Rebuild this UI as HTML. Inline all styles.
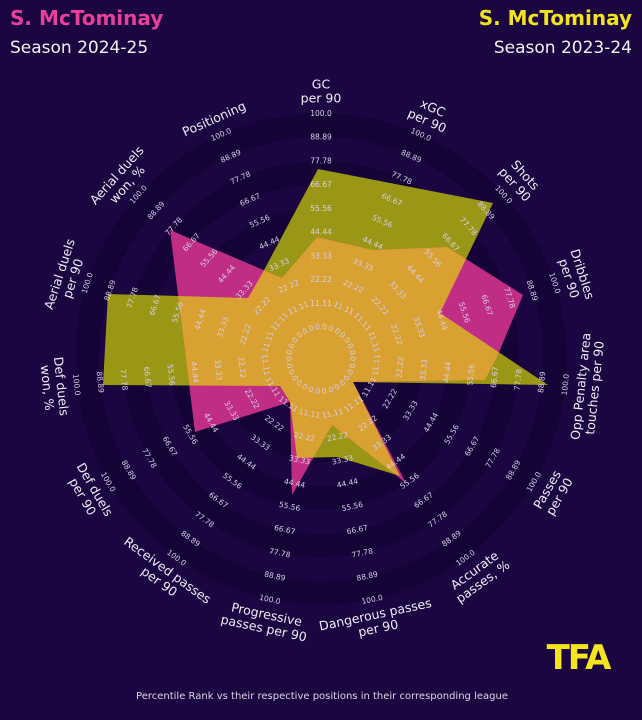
<!DOCTYPE html>
<html><head><meta charset="utf-8"><style>
html,body{margin:0;padding:0;background:#1b0642;}
svg{display:block;font-family:"DejaVu Sans","Liberation Sans",sans-serif;}
.t text{font-size:7.5px;fill:#d8cfe6;text-anchor:middle;dominant-baseline:central;}
.l text{font-size:12.5px;fill:#f0ecf6;text-anchor:middle;dominant-baseline:central;}
</style></head><body>
<svg width="642" height="720" viewBox="0 0 642 720" xmlns="http://www.w3.org/2000/svg">
<rect width="642" height="720" fill="#1b0642"/>
<text x="10" y="25" font-size="20" font-weight="bold" fill="#e8409a">S. McTominay</text>
<text x="10" y="53" font-size="17" fill="#f2f2f2">Season 2024-25</text>
<text x="632" y="25" font-size="20" font-weight="bold" fill="#f2e41c" text-anchor="end">S. McTominay</text>
<text x="632" y="53" font-size="17" fill="#f2f2f2" text-anchor="end">Season 2023-24</text>
<g transform="translate(321,359)">
<g fill="none" stroke="#150338" stroke-width="23.75">
<circle r="233.9"/><circle r="186.4"/><circle r="138.9"/><circle r="91.4"/><circle r="43.9"/>
</g>
<circle r="32" fill="#150338"/>
</g>
<defs><clipPath id="pk"><polygon points="317,237 373,250 447,247 523,295 497,357 485,380 353,382 406,483 332,425 292,495 290,402 195,432 170,230 282,278"/></clipPath></defs>
<polygon fill="#9b9716" points="297,458 338,457 400,476 353,382 548,385 440,313 493,203 318,169 263,272 248,298 108,294 103,385 280,386 290,402"/>
<polygon fill="#bf2d84" points="317,237 373,250 447,247 523,295 497,357 485,380 353,382 406,483 332,425 292,495 290,402 195,432 170,230 282,278"/>
<polygon fill="#d9a032" clip-path="url(#pk)" points="297,458 338,457 400,476 353,382 548,385 440,313 493,203 318,169 263,272 248,298 108,294 103,385 280,386 290,402"/>
<g class="t" transform="translate(321,359)">
<g transform="rotate(0)"><text y="-32">0.0</text><text y="-55.75">11.11</text><text y="-79.5">22.22</text><text y="-103.25">33.33</text><text y="-127">44.44</text><text y="-150.75">55.56</text><text y="-174.5">66.67</text><text y="-198.25">77.78</text><text y="-222">88.89</text><text y="-245.75">100.0</text></g>
<g transform="rotate(24)"><text y="-32">0.0</text><text y="-55.75">11.11</text><text y="-79.5">22.22</text><text y="-103.25">33.33</text><text y="-127">44.44</text><text y="-150.75">55.56</text><text y="-174.5">66.67</text><text y="-198.25">77.78</text><text y="-222">88.89</text><text y="-245.75">100.0</text></g>
<g transform="rotate(48)"><text y="-32">0.0</text><text y="-55.75">11.11</text><text y="-79.5">22.22</text><text y="-103.25">33.33</text><text y="-127">44.44</text><text y="-150.75">55.56</text><text y="-174.5">66.67</text><text y="-198.25">77.78</text><text y="-222">88.89</text><text y="-245.75">100.0</text></g>
<g transform="rotate(72)"><text y="-32">0.0</text><text y="-55.75">11.11</text><text y="-79.5">22.22</text><text y="-103.25">33.33</text><text y="-127">44.44</text><text y="-150.75">55.56</text><text y="-174.5">66.67</text><text y="-198.25">77.78</text><text y="-222">88.89</text><text y="-245.75">100.0</text></g>
<g transform="rotate(-72)"><text y="-32">0.0</text><text y="-55.75">11.11</text><text y="-79.5">22.22</text><text y="-103.25">33.33</text><text y="-127">44.44</text><text y="-150.75">55.56</text><text y="-174.5">66.67</text><text y="-198.25">77.78</text><text y="-222">88.89</text><text y="-245.75">100.0</text></g>
<g transform="rotate(-48)"><text y="-32">0.0</text><text y="-55.75">11.11</text><text y="-79.5">22.22</text><text y="-103.25">33.33</text><text y="-127">44.44</text><text y="-150.75">55.56</text><text y="-174.5">66.67</text><text y="-198.25">77.78</text><text y="-222">88.89</text><text y="-245.75">100.0</text></g>
<g transform="rotate(-24)"><text y="-32">0.0</text><text y="-55.75">11.11</text><text y="-79.5">22.22</text><text y="-103.25">33.33</text><text y="-127">44.44</text><text y="-150.75">55.56</text><text y="-174.5">66.67</text><text y="-198.25">77.78</text><text y="-222">88.89</text><text y="-245.75">100.0</text></g>
<g transform="rotate(-84)"><text y="32">0.0</text><text y="55.75">11.11</text><text y="79.5">22.22</text><text y="103.25">33.33</text><text y="127">44.44</text><text y="150.75">55.56</text><text y="174.5">66.67</text><text y="198.25">77.78</text><text y="222">88.89</text><text y="245.75">100.0</text></g>
<g transform="rotate(-60)"><text y="32">0.0</text><text y="55.75">11.11</text><text y="79.5">22.22</text><text y="103.25">33.33</text><text y="127">44.44</text><text y="150.75">55.56</text><text y="174.5">66.67</text><text y="198.25">77.78</text><text y="222">88.89</text><text y="245.75">100.0</text></g>
<g transform="rotate(-36)"><text y="32">0.0</text><text y="55.75">11.11</text><text y="79.5">22.22</text><text y="103.25">33.33</text><text y="127">44.44</text><text y="150.75">55.56</text><text y="174.5">66.67</text><text y="198.25">77.78</text><text y="222">88.89</text><text y="245.75">100.0</text></g>
<g transform="rotate(-12)"><text y="32">0.0</text><text y="55.75">11.11</text><text y="79.5">22.22</text><text y="103.25">33.33</text><text y="127">44.44</text><text y="150.75">55.56</text><text y="174.5">66.67</text><text y="198.25">77.78</text><text y="222">88.89</text><text y="245.75">100.0</text></g>
<g transform="rotate(12)"><text y="32">0.0</text><text y="55.75">11.11</text><text y="79.5">22.22</text><text y="103.25">33.33</text><text y="127">44.44</text><text y="150.75">55.56</text><text y="174.5">66.67</text><text y="198.25">77.78</text><text y="222">88.89</text><text y="245.75">100.0</text></g>
<g transform="rotate(36)"><text y="32">0.0</text><text y="55.75">11.11</text><text y="79.5">22.22</text><text y="103.25">33.33</text><text y="127">44.44</text><text y="150.75">55.56</text><text y="174.5">66.67</text><text y="198.25">77.78</text><text y="222">88.89</text><text y="245.75">100.0</text></g>
<g transform="rotate(60)"><text y="32">0.0</text><text y="55.75">11.11</text><text y="79.5">22.22</text><text y="103.25">33.33</text><text y="127">44.44</text><text y="150.75">55.56</text><text y="174.5">66.67</text><text y="198.25">77.78</text><text y="222">88.89</text><text y="245.75">100.0</text></g>
<g transform="rotate(84)"><text y="32">0.0</text><text y="55.75">11.11</text><text y="79.5">22.22</text><text y="103.25">33.33</text><text y="127">44.44</text><text y="150.75">55.56</text><text y="174.5">66.67</text><text y="198.25">77.78</text><text y="222">88.89</text><text y="245.75">100.0</text></g>
</g>
<g class="l" transform="translate(321,359)">
<g transform="rotate(0)"><text y="-275">GC</text><text y="-261">per 90</text></g>
<g transform="rotate(24)"><text y="-275">xGC</text><text y="-261">per 90</text></g>
<g transform="rotate(48)"><text y="-275">Shots</text><text y="-261">per 90</text></g>
<g transform="rotate(72)"><text y="-275">Dribbles</text><text y="-261">per 90</text></g>
<g transform="rotate(-72)"><text y="-275">Aerial duels</text><text y="-261">per 90</text></g>
<g transform="rotate(-48)"><text y="-275">Aerial duels</text><text y="-261">won, %</text></g>
<g transform="rotate(-24)"><text y="-263">Positioning</text></g>
<g transform="rotate(-84)"><text y="261">Opp Penalty area</text><text y="275">touches per 90</text></g>
<g transform="rotate(-60)"><text y="261">Passes</text><text y="275">per 90</text></g>
<g transform="rotate(-36)"><text y="261">Accurate</text><text y="275">passes, %</text></g>
<g transform="rotate(-12)"><text y="261">Dangerous passes</text><text y="275">per 90</text></g>
<g transform="rotate(12)"><text y="261">Progressive</text><text y="275">passes per 90</text></g>
<g transform="rotate(36)"><text y="261">Received passes</text><text y="275">per 90</text></g>
<g transform="rotate(60)"><text y="261">Def duels</text><text y="275">per 90</text></g>
<g transform="rotate(84)"><text y="261">Def duels</text><text y="275">won, %</text></g>
</g>
<text x="578" y="669" font-size="34" font-weight="bold" fill="#f5e51c" text-anchor="middle" letter-spacing="-2">TFA</text>
<text x="322" y="699" font-size="10" fill="#dcd6e6" text-anchor="middle">Percentile Rank vs their respective positions in their corresponding league</text>
</svg>
</body></html>
